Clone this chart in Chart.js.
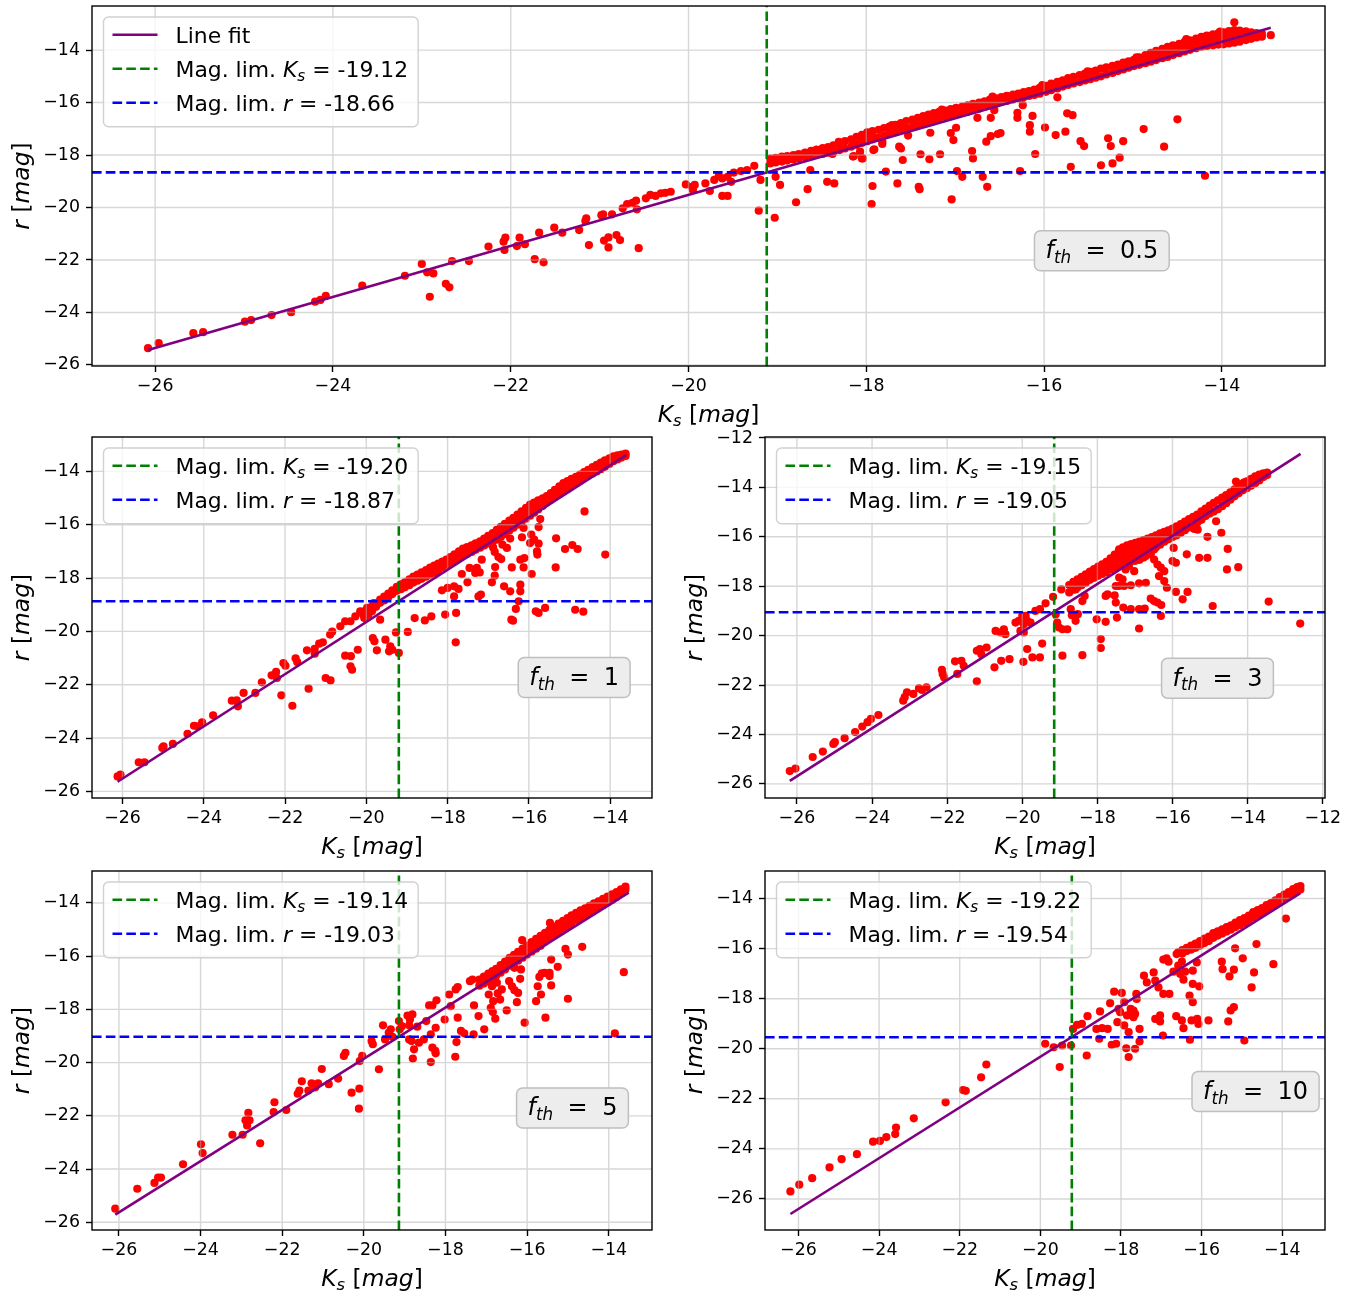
<!DOCTYPE html>
<html>
<head>
<meta charset="utf-8">
<title>r vs Ks magnitude limits</title>
<script src="https://cdn.jsdelivr.net/npm/chart.js@4.4.1/dist/chart.umd.min.js"></script>
<style>
  body { margin: 0; background: #fff; }
  #fig { position: relative; width: 1360px; height: 1296px; overflow: hidden; }
  #fig canvas { position: absolute; }
</style>
</head>
<body>
<div id="fig"></div>
<script>
// =====================================================================
// DATA
// =====================================================================

const fth = ['0.5', '1', '3', '5', '10'];
const ksLim = [-19.12, -19.20, -19.15, -19.14, -19.22];
const rLim = [-18.66, -18.87, -19.05, -19.03, -19.54];

// line fit end points
const fitKs = [[-26.08, -13.45], [-26.12, -13.60], [-26.19, -12.59], [-26.09, -13.51], [-26.20, -13.56]];
const fitR = [[-25.43, -13.15], [-25.64, -13.38], [-25.88, -12.64], [-25.71, -13.61], [-26.60, -13.79]];

// axis limits
const ksRange = [[-26.71, -12.84], [-26.75, -12.97], [-26.85, -11.94], [-26.66, -12.94], [-26.83, -12.94]];
const rRange = [[-26.04, -12.32], [-26.25, -12.71], [-26.57, -11.96], [-26.29, -12.80], [-27.24, -12.90]];

// tick labels
const ksTicks = [
  [-26, -24, -22, -20, -18, -16, -14],
  [-26, -24, -22, -20, -18, -16, -14],
  [-26, -24, -22, -20, -18, -16, -14, -12],
  [-26, -24, -22, -20, -18, -16, -14],
  [-26, -24, -22, -20, -18, -16, -14]
];
const rTicks = [
  [-26, -24, -22, -20, -18, -16, -14],
  [-26, -24, -22, -20, -18, -16, -14],
  [-26, -24, -22, -20, -18, -16, -14, -12],
  [-26, -24, -22, -20, -18, -16, -14],
  [-26, -24, -22, -20, -18, -16, -14]
];

// galaxies: each row is [Ks, r, r, ...] (all points sharing one Ks value)
const rows05 = [
  [-26.08,-25.36],[-25.96,-25.17],[-25.57,-24.79],[-25.46,-24.75],[-24.99,-24.35],[-24.92,-24.29],[-24.69,-24.10],[-24.47,-23.99],
  [-24.20,-23.59],[-24.14,-23.52],[-24.08,-23.37],[-23.67,-22.98],[-23.19,-22.60],[-23.00,-22.15],[-22.94,-22.47],[-22.87,-22.51],
  [-22.91,-23.40],[-22.73,-22.91],[-22.69,-23.04],[-22.66,-22.04],[-22.47,-22.04],[-22.25,-21.49],[-22.08,-21.30],[-22.06,-21.15],
  [-22.07,-21.62],[-21.93,-21.47],[-21.90,-21.15],[-21.84,-21.40],[-21.73,-21.97],[-21.63,-22.09],[-21.68,-20.96],[-21.51,-20.77],
  [-21.42,-20.96],[-21.23,-20.86],[-21.16,-20.51],[-21.15,-20.41],[-21.12,-21.43],[-20.98,-20.29],[-20.96,-20.26],[-20.95,-21.26],
  [-20.90,-21.14,-21.52],[-20.86,-20.26],[-20.81,-21.05],[-20.77,-21.24],[-20.74,-20.03],[-20.69,-19.87],[-20.63,-19.82],[-20.58,-20.07],
  [-20.59,-19.74],[-20.56,-21.55],[-20.48,-19.65],[-20.43,-19.52],[-20.37,-19.56],[-20.31,-19.46],[-20.26,-19.44],[-20.20,-19.40],
  [-20.03,-19.12],[-19.96,-19.21],[-19.93,-19.14],[-19.95,-19.33],[-19.81,-19.08],[-19.76,-19.37],[-19.71,-18.95],[-19.66,-18.80],
  [-19.62,-18.89,-19.56],[-19.56,-18.83,-19.56],[-19.52,-19.02],[-19.49,-18.67],[-19.41,-18.61],[-19.34,-18.57],[-19.26,-18.41],
  [-19.19,-18.95],[-19.21,-20.12],
  [-19.03,-20.39],[-18.97,-19.14],[-19.02,-18.83],[-18.79,-19.80],[-18.66,-19.30],[-18.63,-18.57],[-18.44,-19.02],[-18.36,-19.08],
  [-18.14,-18.04],[-18.05,-18.13],[-18.07,-17.87],[-17.93,-19.18],[-17.94,-19.87],[-17.92,-17.81],[-17.78,-18.63],[-17.65,-19.08],
  [-17.63,-17.68],[-17.59,-18.19],[-17.61,-17.75],[-17.53,-17.26],[-17.40,-19.30],[-17.41,-19.21],[-17.39,-17.97],[-17.29,-18.16],
  [-17.28,-17.15],[-17.17,-17.97],[-17.04,-19.69],[-17.05,-17.16],[-17.02,-17.43],[-16.99,-16.96],[-16.98,-18.61],[-16.92,-18.83],
  [-16.81,-17.85],[-16.80,-18.13],[-16.75,-16.58],[-16.69,-18.83],[-16.64,-19.21],[-16.65,-17.49],[-16.60,-17.28,-16.58],
  [-16.52,-17.20],[-16.49,-17.16],[-16.56,-16.29],[-16.30,-16.58,-16.39],[-16.27,-18.61],[-16.24,-16.10],[-16.16,-16.86,-17.11],
  [-16.13,-16.51],[-16.10,-17.96],[-15.99,-16.95],[-15.87,-17.24],[-15.85,-15.80],[-15.76,-17.11],[-15.74,-16.41],[-15.68,-16.48],
  [-15.70,-18.45],[-15.59,-17.47],[-15.55,-17.66],[-15.36,-18.39],[-15.28,-17.36],[-15.25,-17.66],[-15.23,-18.32],[-15.15,-18.10],
  [-15.11,-17.47],[-14.88,-17.01],[-14.65,-17.68],[-14.50,-16.64],[-14.19,-18.79],[-13.86,-12.94],[-13.45,-13.43],
  [-18.38,-17.96],[-18.15,-18.06],[-18.04,-18.13],[-17.91,-17.78],[-17.82,-17.58,-17.49],
  [-18.31,-17.50],[-17.71,-16.86],[-17.15,-16.27],[-16.58,-15.77],[-16.02,-15.33],[-15.51,-14.81],[-14.96,-14.28],[-14.40,-13.58],[-14.02,-13.30],
  // dense sequence
  [-19.08,-18.14,-18.32],[-19.02,-18.11,-18.28],[-18.95,-18.06,-18.25],[-18.89,-18.04,-18.21],[-18.82,-18.00,-18.17],[-18.76,-17.96,-18.12],
  [-18.69,-17.91,-18.08],[-18.62,-17.84,-18.02],[-18.56,-17.79,-17.99],[-18.49,-17.74,-17.96],[-18.43,-17.70,-17.91],[-18.37,-17.63,-17.88],
  [-18.30,-17.56,-17.81],[-18.24,-17.47,-17.75],[-18.17,-17.40,-17.68],[-18.11,-17.31,-17.61,-17.45],[-18.05,-17.23,-17.54,-17.37],
  [-17.99,-17.14,-17.47,-17.30],[-17.93,-17.09,-17.40,-17.26],[-17.86,-17.04,-17.33],[-17.80,-16.97,-17.26],[-17.74,-16.92,-17.18],
  [-17.67,-16.85,-17.11],[-17.61,-16.78,-17.04],[-17.55,-16.71,-16.98],[-17.48,-16.65,-16.92],[-17.42,-16.58,-16.86],[-17.36,-16.52,-16.79],
  [-17.30,-16.46,-16.72],[-17.24,-16.40,-16.66],[-17.18,-16.35,-16.61],[-17.11,-16.31,-16.55],[-17.05,-16.25,-16.50],[-16.99,-16.20,-16.45],
  [-16.92,-16.15,-16.39],[-16.86,-16.11,-16.35],[-16.80,-16.05,-16.29],[-16.73,-16.00,-16.23],[-16.67,-15.95,-16.16],[-16.61,-15.89,-16.10],
  [-16.54,-15.84,-16.04],[-16.48,-15.79,-15.97],[-16.42,-15.74,-15.94],[-16.35,-15.70,-15.88],[-16.29,-15.66,-15.84],[-16.23,-15.60,-15.80],
  [-16.17,-15.56,-15.75],[-16.11,-15.51,-15.71],[-16.05,-15.44,-15.66],[-15.98,-15.36,-15.59],[-15.92,-15.28,-15.53],[-15.85,-15.21,-15.46],
  [-15.79,-15.15,-15.39],[-15.73,-15.07,-15.33],[-15.67,-15.02,-15.27],[-15.60,-14.95,-15.22],[-15.54,-14.90,-15.16],[-15.48,-14.83,-15.11],
  [-15.42,-14.78,-15.05],[-15.36,-14.71,-15.00],[-15.30,-14.66,-14.93],[-15.23,-14.60,-14.87],[-15.17,-14.55,-14.80],[-15.11,-14.48,-14.74],
  [-15.05,-14.43,-14.67],[-14.99,-14.37,-14.61],[-14.93,-14.28,-14.56,-14.42],[-14.86,-14.19,-14.50,-14.35],[-14.80,-14.11,-14.44,-14.28],
  [-14.74,-14.03,-14.38,-14.21],[-14.67,-13.95,-14.31,-14.14],[-14.61,-13.88,-14.26,-14.07],[-14.55,-13.82,-14.19,-14.01],
  [-14.48,-13.76,-14.12,-13.94],[-14.42,-13.69,-14.05,-13.88],[-14.36,-13.63,-13.99,-13.81],[-14.29,-13.56,-13.93,-13.75],
  [-14.23,-13.50,-13.87,-13.68],[-14.17,-13.45,-13.84,-13.65],[-14.10,-13.40,-13.82,-13.61],[-14.04,-13.36,-13.79,-13.58],
  [-13.98,-13.32,-13.78,-13.55],[-13.92,-13.28,-13.75,-13.51],[-13.86,-13.24,-13.72,-13.48],[-13.80,-13.26,-13.68,-13.47],
  [-13.73,-13.29,-13.62,-13.46],[-13.67,-13.32,-13.57],[-13.61,-13.35,-13.52],[-13.55,-13.37,-13.49]
];

const rows1 = [
  [-26.12,-25.44],[-26.05,-25.37],[-25.60,-24.91],[-25.46,-24.91],[-25.02,-24.37],[-24.99,-24.31],[-24.76,-24.22],[-24.40,-23.84],
  [-24.24,-23.54],[-24.16,-23.56],[-24.04,-23.41],[-23.77,-23.15],[-23.31,-22.60],[-23.19,-22.59],[-23.16,-22.81],[-23.02,-22.31],
  [-22.73,-22.31],[-22.57,-21.91],[-22.33,-21.65],[-22.22,-21.52],[-22.20,-21.75],[-22.09,-22.40],[-22.04,-21.19],[-21.99,-21.29],
  [-21.82,-22.79],[-21.74,-21.01],[-21.70,-21.15],[-21.42,-22.15],[-21.46,-20.71],[-21.27,-20.66,-20.84],[-21.16,-20.46],[-21.07,-20.41],
  [-21.00,-21.75],[-20.88,-21.84],[-20.89,-20.12],[-20.84,-20.01],
  [-20.64,-19.81],[-20.52,-19.62],[-20.39,-19.62],[-20.27,-19.44],[-20.15,-19.25],[-20.08,-19.37],[-19.98,-19.12],[-19.90,-19.12],[-19.82,-18.94],
  [-14.63,-15.50],[-14.12,-17.12],[-15.11,-16.91],[-14.93,-16.76],[-14.80,-16.91],[-15.34,-17.60],[-15.33,-16.51],[-14.86,-19.19],
  [-14.66,-19.26],[-15.72,-15.79],[-15.76,-16.09,-16.71,-19.31],[-15.87,-16.56],[-15.93,-17.85],[-15.80,-17.00],[-15.79,-17.12],
  [-15.83,-19.25],[-15.60,-19.12],[-16.21,-18.25,-18.50,-17.31],[-16.43,-19.56],[-16.39,-19.60],[-16.32,-19.16],[-16.25,-18.87],
  [-16.13,-16.12,-17.60],[-16.17,-16.47],[-15.97,-16.69],[-15.94,-16.37],[-16.11,-17.25],[-16.42,-17.60],[-16.54,-16.87],
  [-16.46,-16.52,-18.50],[-16.65,-16.75],[-16.84,-17.02,-17.91],[-16.75,-17.21],[-16.68,-17.29],[-16.88,-16.85],[-16.83,-17.59],
  [-16.91,-18.16],[-16.61,-18.31],[-17.16,-17.31],[-17.21,-17.79],[-17.18,-18.62],[-17.24,-18.69],[-17.46,-17.62],[-17.32,-17.81],
  [-17.28,-17.62],[-17.51,-18.16],[-17.65,-17.85],[-17.73,-18.41],[-17.84,-18.31,-18.69],[-17.79,-19.31],[-17.80,-20.41],[-18.06,-19.37],
  [-18.14,-18.46],[-18.00,-18.37],[-18.40,-19.44],[-18.56,-19.59],[-18.81,-19.50],[-18.98,-20.02],[-19.27,-20.04],[-19.20,-20.81],
  [-19.41,-20.56],[-19.36,-20.69],[-19.44,-20.75],[-19.53,-20.31],[-19.84,-20.25],[-19.80,-20.37],[-19.74,-20.71],[-19.66,-19.56],
  [-20.21,-20.69],[-20.52,-20.91],[-20.38,-20.93],[-20.39,-21.31],[-20.35,-21.44],
  // dense sequence
  [-20.05,-19.25,-19.50],[-19.95,-19.15,-19.38],[-19.86,-19.06,-19.25],[-19.76,-18.95,-19.08],[-19.66,-18.81,-18.93],[-19.56,-18.70,-18.84],
  [-19.46,-18.58,-18.72],[-19.36,-18.46,-18.60],[-19.25,-18.33,-18.48],[-19.15,-18.24,-18.42],[-19.05,-18.16,-18.35],[-18.94,-18.05,-18.27],
  [-18.84,-17.95,-18.17],[-18.74,-17.87,-18.10],[-18.64,-17.79,-18.03],[-18.53,-17.70,-17.95],[-18.43,-17.61,-17.87],[-18.33,-17.53,-17.80],
  [-18.23,-17.46,-17.72],[-18.13,-17.38,-17.59],[-18.03,-17.31,-17.50],[-17.93,-17.21,-17.42],[-17.83,-17.11,-17.34],[-17.72,-17.00,-17.25],
  [-17.62,-16.90,-17.16],[-17.52,-16.84,-17.10],[-17.41,-16.77,-17.02],[-17.31,-16.70,-16.94],[-17.20,-16.62,-16.86],[-17.10,-16.52,-16.78],
  [-17.00,-16.42,-16.70],[-16.89,-16.31,-16.62,-16.47],[-16.79,-16.19,-16.56,-16.38],[-16.69,-16.08,-16.46,-16.27],[-16.59,-15.97,-16.35,-16.16],
  [-16.48,-15.85,-16.22,-16.03],[-16.38,-15.74,-16.11,-15.92],[-16.28,-15.62,-16.00,-15.80],[-16.18,-15.50,-15.89,-15.70],
  [-16.07,-15.37,-15.77,-15.57],[-15.97,-15.25,-15.66,-15.45],[-15.87,-15.17,-15.55,-15.35],[-15.77,-15.09,-15.43,-15.25],
  [-15.66,-15.01,-15.30],[-15.56,-14.93,-15.17],[-15.46,-14.81,-15.06],[-15.36,-14.69,-14.96],[-15.25,-14.56,-14.86,-14.70],
  [-15.15,-14.44,-14.75,-14.60],[-15.05,-14.36,-14.66],[-14.95,-14.28,-14.55],[-14.84,-14.20,-14.43],[-14.74,-14.12,-14.31],
  [-14.64,-14.03,-14.24],[-14.54,-13.94,-14.16],[-14.43,-13.84,-14.08],[-14.33,-13.75,-14.00],[-14.23,-13.67,-13.92],[-14.13,-13.59,-13.83],
  [-14.02,-13.51,-13.72],[-13.92,-13.44,-13.62],[-13.82,-13.40,-13.55],[-13.72,-13.37,-13.48],[-13.62,-13.33,-13.42]
];

const rows3 = [
  [-26.19,-25.48],[-26.04,-25.38],[-25.58,-24.91],[-25.31,-24.69],[-25.03,-24.38],[-24.99,-24.31],[-24.73,-24.15],[-24.45,-23.90],
  [-24.26,-23.68],[-24.12,-23.50],[-24.03,-23.37],[-23.83,-23.21],[-23.17,-22.63],[-23.13,-22.49],[-23.07,-22.29],[-22.90,-22.36],
  [-22.75,-22.13],[-22.67,-22.20],[-22.55,-22.09],[-22.14,-21.38],[-22.12,-21.55],[-22.08,-21.69],[-21.79,-21.04],[-21.62,-21.02],
  [-21.56,-21.22],[-21.73,-21.55],[-21.21,-21.85,-20.61],[-21.13,-20.54],[-20.95,-20.48],[-21.09,-20.75],
  [-20.71,-19.81],[-20.58,-19.87],[-20.49,-19.74],[-20.45,-19.94],[-20.74,-21.28],[-20.56,-21.02],[-20.34,-20.95],[-20.18,-19.47],
  [-20.09,-19.40],[-20.05,-19.81],[-19.96,-19.54,-19.87],[-19.87,-19.40,-20.54],[-19.78,-19.47],[-19.91,-19.20],[-20.00,-19.20],
  [-19.97,-21.06],[-19.73,-20.88],[-19.53,-20.88,-18.93],[-19.47,-20.32],[-19.65,-19.00],[-19.38,-18.69],[-19.18,-18.43],[-19.11,-19.13],
  [-19.07,-19.47],[-19.02,-19.67],[-18.93,-19.74,-20.81],[-18.80,-19.74],[-18.96,-18.13],[-18.71,-18.93],[-18.68,-19.17],
  [-18.58,-19.40,-18.13],[-18.52,-19.13],[-18.40,-18.60,-20.79],[-18.34,-18.39],[-18.49,-17.92],[-18.27,-17.72],[-18.18,-17.59],
  [-18.02,-19.34],[-17.91,-20.14,-20.50],[-17.78,-19.44,-18.39],[-17.73,-18.33],[-17.54,-18.37],[-17.51,-18.66,-17.99],[-17.48,-19.27],
  [-17.42,-17.99,-17.65,-16.51],[-17.29,-17.99,-16.78],[-17.11,-17.96,-18.93],[-16.89,-17.88,-18.93,-19.71],[-16.71,-17.86,-16.78],
  [-17.33,-17.72],[-17.31,-18.86],[-16.74,-18.90],[-16.58,-18.50,-16.71],[-16.49,-18.60,-16.92,-16.51],[-16.40,-18.66,-17.12],
  [-16.30,-18.76],[-16.31,-19.20,-17.25],[-15.91,-18.23,-17.05],[-15.73,-18.53],[-15.60,-18.23],[-15.97,-16.45],[-15.62,-16.71],
  [-15.29,-16.85],[-15.07,-16.85,-16.00],[-14.93,-18.80],[-14.84,-15.37],[-15.42,-15.68],[-15.33,-15.71],[-14.70,-15.84],[-14.53,-16.49],
  [-14.55,-17.32],[-14.25,-17.23],[-13.44,-18.62],[-12.60,-19.51],[-17.25,-17.32],[-17.16,-17.18],[-17.02,-17.39],[-16.22,-17.39,-17.79],
  [-16.36,-17.59],[-16.00,-16.98],[-16.15,-18.06],[-17.56,-16.92],[-17.69,-17.05],[-16.80,-16.58],[-16.67,-16.38],[-14.31,-13.76],[-14.09,-13.80],
  // dense sequence
  [-18.75,-17.95,-18.25],[-18.64,-17.82,-18.14],[-18.53,-17.72,-18.05],[-18.42,-17.62,-17.96],[-18.31,-17.52,-17.86],[-18.20,-17.41,-17.74],
  [-18.09,-17.31,-17.50,-17.66],[-17.98,-17.21,-17.34,-17.46,-17.58],[-17.87,-17.11,-17.24,-17.37,-17.50],[-17.76,-17.01,-17.15,-17.29,-17.43],
  [-17.65,-16.87,-17.02,-17.17,-17.32],[-17.54,-16.72,-16.90,-17.07,-17.25],[-17.43,-16.58,-16.78,-16.98,-17.18],
  [-17.32,-16.43,-16.66,-16.89,-17.12],[-17.21,-16.35,-16.58,-16.82,-17.05],[-17.10,-16.29,-16.53,-16.76,-17.00],
  [-16.99,-16.24,-16.48,-16.72,-16.97],[-16.88,-16.19,-16.44,-16.68,-16.93],[-16.77,-16.13,-16.37,-16.61,-16.84],
  [-16.66,-16.07,-16.27,-16.48,-16.68],[-16.55,-16.01,-16.19,-16.37,-16.55],[-16.44,-15.94,-16.10,-16.26,-16.42],
  [-16.33,-15.86,-16.01,-16.17,-16.32],[-16.22,-15.80,-15.94,-16.07,-16.20],[-16.11,-15.74,-15.92,-16.10],[-16.00,-15.67,-15.83,-16.01],
  [-15.89,-15.58,-15.76,-15.94],[-15.78,-15.48,-15.66,-15.84],[-15.67,-15.38,-15.56,-15.73],[-15.56,-15.28,-15.45,-15.62],
  [-15.45,-15.19,-15.52],[-15.34,-15.10,-15.42],[-15.23,-14.97,-15.31],[-15.12,-14.86,-15.16],[-15.01,-14.74,-15.06],[-14.90,-14.63,-14.98],
  [-14.79,-14.52,-14.88],[-14.68,-14.41,-14.76],[-14.57,-14.31,-14.64],[-14.46,-14.20,-14.50],[-14.35,-14.08,-14.36],[-14.24,-13.96,-14.24],
  [-14.13,-13.85,-14.12],[-14.02,-13.75,-14.03],[-13.91,-13.65,-13.93],[-13.80,-13.55,-13.83],[-13.69,-13.48,-13.72],[-13.58,-13.43,-13.58],
  [-13.48,-13.40,-13.50]
];

const rows5 = [
  [-26.09,-25.49],[-25.55,-24.74],[-25.13,-24.52],[-25.04,-24.32],[-24.97,-24.32],[-24.43,-23.82],[-23.99,-23.07],[-23.95,-23.40],
  [-23.22,-22.71],[-22.97,-22.71],[-22.90,-22.17],[-22.86,-22.36],[-22.83,-21.89],[-22.80,-22.17],[-22.54,-23.03],[-22.19,-21.49],
  [-22.21,-21.86],[-21.90,-21.78],[-21.62,-21.17],[-21.52,-20.70],[-21.58,-21.05],[-21.36,-21.05],[-21.28,-20.78],[-21.12,-20.78],
  [-21.19,-20.93],[-21.03,-20.24],
  [-20.86,-20.81],[-20.63,-20.60],[-20.49,-19.75],[-20.45,-19.63],[-20.30,-21.13],[-20.11,-20.98],[-20.12,-21.73],[-20.04,-19.75],
  [-20.10,-19.94],[-19.81,-19.19],[-19.78,-19.31],[-19.63,-20.25],[-19.53,-18.60],[-19.48,-19.13],[-19.39,-18.88],[-19.34,-18.75],
  [-19.30,-19.03],[-19.14,-18.44],[-19.07,-18.63],[-19.12,-18.75],[-18.93,-18.23],[-18.87,-18.38],[-18.81,-18.19],[-18.89,-18.60,-19.13],
  [-18.83,-19.19],[-18.77,-19.50],[-18.80,-19.85],[-18.69,-18.65],[-18.65,-19.25],[-18.53,-19.13],[-18.47,-18.44],[-18.36,-18.94,-19.98],
  [-18.40,-17.85],[-18.32,-17.85,-19.44],[-18.25,-19.56],[-18.24,-19.65,-18.69],[-18.22,-17.66],[-18.02,-18.38],[-17.91,-17.44],
  [-17.75,-17.25],[-17.70,-17.16,-18.31],[-17.87,-17.88],[-17.76,-19.78],[-17.73,-19.23],[-17.62,-18.81],[-17.54,-18.90],[-17.40,-16.94],
  [-17.34,-16.88],[-17.30,-17.85],[-17.19,-18.25],[-17.31,-18.94],[-17.05,-18.75],[-16.94,-17.44],[-16.86,-17.13],[-16.83,-17.69],
  [-16.89,-17.94],[-16.84,-18.10],[-16.78,-18.35],[-16.72,-17.40],[-16.66,-17.63],[-16.74,-17.00],[-16.62,-17.25],[-16.50,-18.04],
  [-16.44,-16.94],[-16.37,-17.13],[-16.31,-17.28,-16.44],[-16.25,-17.73],[-16.22,-17.38],[-16.17,-16.85],[-16.06,-18.50],[-16.15,-16.50],
  [-15.78,-17.69],[-15.74,-17.13],[-15.70,-16.78],[-15.64,-16.65],[-15.57,-16.63],[-15.45,-16.63,-16.75],[-15.66,-17.44],[-15.55,-18.31],
  [-15.41,-17.10,-16.13],[-15.25,-16.40],[-15.06,-15.73],[-15.00,-15.94,-17.60],[-14.65,-15.65],[-13.85,-18.90],[-13.63,-16.60],
  [-15.44,-14.75],[-16.12,-15.40],
  // dense sequence
  [-17.17,-16.88,-17.11],[-17.06,-16.77,-17.03],[-16.95,-16.66,-16.95],[-16.85,-16.56,-16.85],[-16.76,-16.48,-16.74],[-16.65,-16.34,-16.62],
  [-16.54,-16.20,-16.50],[-16.43,-16.06,-16.36,-16.21],[-16.32,-15.95,-16.25,-16.10],[-16.22,-15.84,-16.17,-16.00],[-16.11,-15.72,-16.06,-15.89],
  [-16.00,-15.60,-15.94,-15.77],[-15.89,-15.47,-15.83,-15.65],[-15.78,-15.35,-15.72,-15.53],[-15.67,-15.24,-15.61,-15.42],
  [-15.56,-15.12,-15.46,-15.29],[-15.45,-15.01,-15.31,-15.16],[-15.34,-14.90,-15.21,-15.05],[-15.23,-14.78,-15.09,-14.93],
  [-15.12,-14.67,-14.97,-14.82],[-15.01,-14.57,-14.88,-14.72],[-14.91,-14.47,-14.77,-14.62],[-14.80,-14.37,-14.64,-14.50],
  [-14.69,-14.28,-14.57],[-14.58,-14.20,-14.45],[-14.47,-14.11,-14.34],[-14.36,-14.02,-14.26],[-14.25,-13.94,-14.17],[-14.14,-13.85,-14.08],
  [-14.03,-13.76,-13.98],[-13.92,-13.68,-13.89],[-13.81,-13.59,-13.78],[-13.70,-13.49,-13.64],[-13.59,-13.39,-13.50]
];

const rows10 = [
  [-26.20,-25.70],[-25.98,-25.43],[-25.66,-25.17],[-25.23,-24.74],[-24.93,-24.41],[-24.55,-24.21],[-24.15,-23.71],[-23.98,-23.68],
  [-23.82,-23.53],[-23.60,-23.41],[-23.58,-23.15],[-23.14,-22.78],[-22.35,-22.14],[-21.92,-21.65],[-21.85,-21.68],[-21.47,-21.14],
  [-21.34,-20.63],
  [-19.88,-19.80],[-19.67,-19.94],[-19.46,-19.87],[-19.24,-19.87],[-19.52,-20.73],[-19.19,-19.21],[-19.09,-19.05],[-18.97,-19.01],
  [-18.83,-18.70],[-18.85,-20.27],[-18.61,-19.21],[-18.52,-18.51],[-18.47,-19.18],[-18.33,-19.21],[-18.27,-18.18],[-18.54,-19.60],
  [-18.23,-19.84],[-18.12,-19.80],[-18.17,-17.72],[-18.09,-18.94],[-18.06,-18.41],[-18.02,-18.54],[-17.98,-17.77],[-17.92,-18.14,-19.07],
  [-17.87,-19.98],[-17.81,-20.33,-19.34],[-17.65,-20.00,-18.61],[-17.85,-18.67],[-17.76,-18.61,-18.41],[-17.69,-18.48,-18.74],
  [-17.61,-18.01],[-17.54,-19.21,-19.71],[-17.62,-17.81],[-17.43,-17.08],[-17.36,-17.35],[-17.19,-16.95],[-17.15,-17.28,-18.81],
  [-17.07,-17.55],[-16.95,-17.81],[-16.80,-17.81],[-17.03,-18.67,-18.91],[-16.96,-19.47],[-16.63,-18.70],[-16.49,-18.87],
  [-16.45,-19.18,-17.24],[-16.22,-17.41,-18.14,-16.88],[-16.30,-17.88],[-16.06,-17.51],[-16.25,-18.87],[-16.11,-18.81],[-16.08,-19.01],
  [-15.83,-18.87],[-16.29,-19.64],[-16.12,-16.55],[-16.41,-16.92],[-16.53,-17.01],[-16.58,-16.68],[-16.49,-16.52],[-16.70,-16.92],
  [-15.50,-16.52],[-15.48,-16.82],[-15.31,-17.11],[-15.17,-15.99],[-15.20,-16.84,-18.34],[-14.98,-16.39],[-15.34,-18.91],[-15.28,-18.47],
  [-14.94,-19.67],[-14.76,-17.55],[-14.70,-16.95],[-14.64,-15.82],[-14.22,-16.62],[-13.91,-14.80],
  [-16.95,-16.44],[-16.87,-16.39],[-16.82,-16.52],[-16.62,-16.22],[-16.58,-16.15],
  // dense sequence
  [-16.48,-16.06,-16.20],[-16.37,-15.97,-16.10],[-16.26,-15.88,-16.04],[-16.15,-15.80,-15.97],[-16.04,-15.70,-15.88],[-15.93,-15.60,-15.78],
  [-15.82,-15.52,-15.70],[-15.71,-15.38,-15.57],[-15.60,-15.31,-15.48],[-15.49,-15.23,-15.40],[-15.38,-15.14,-15.32],[-15.27,-15.07,-15.24],
  [-15.16,-14.96,-15.14],[-15.05,-14.86,-15.06],[-14.94,-14.78,-14.97],[-14.83,-14.68,-14.88],[-14.72,-14.54,-14.74],[-14.61,-14.46,-14.64],
  [-14.50,-14.38,-14.56],[-14.39,-14.26,-14.46],[-14.28,-14.18,-14.36],[-14.17,-14.07,-14.26],[-14.06,-13.94,-14.14],[-13.95,-13.84,-14.04],
  [-13.84,-13.74,-13.92],[-13.73,-13.62,-13.82],[-13.63,-13.54,-13.72],[-13.55,-13.50,-13.64]
];

const galaxyRows = [rows05, rows1, rows3, rows5, rows10];

// =====================================================================
// LAYOUT AND STYLE
// =====================================================================

// plot area of each panel on the page [left, top, right, bottom] and the f_th box centre (fraction of area)
const panels = [
  { area: [92, 6, 1325, 366], note: [0.819, 0.68] },
  { area: [92, 437, 652, 798], note: [0.861, 0.666] },
  { area: [765, 437, 1325, 798], note: [0.808, 0.668] },
  { area: [92, 871, 652, 1230], note: [0.858, 0.66] },
  { area: [765, 871, 1325, 1230], note: [0.876, 0.614] }
];

const FONT = '"DejaVu Sans"';
const GRID = 'rgba(176,176,176,0.5)';
const DASH = [9.6, 4.2];
const RED = '#ff0000', PURPLE = '#800080', GREEN = '#008000', BLUE = '#0000ff';
const PAD_LEFT = 92, PAD_TOP = 22, PAD_RIGHT = 25, X_AXIS_H = 64;

Chart.defaults.font.family = FONT;
Chart.defaults.color = '#000';

const fmtTick = v => (v < 0 ? '\u2212' : '') + Math.abs(v);

// ---- small rich-text helpers (italic / subscript runs, like mathtext) ----
function runFont(r, size) {
  const s = r.sub ? size * 0.7 : size;
  return (r.it ? 'italic ' : '') + s.toFixed(2) + 'px ' + FONT;
}
function runsWidth(ctx, runs, size) {
  let w = 0;
  runs.forEach(r => {
    if (r.gap) { w += r.gap * size; return; }
    ctx.font = runFont(r, size);
    w += ctx.measureText(r.t).width;
  });
  return w;
}
function drawRuns(ctx, runs, x, y, size) {
  ctx.textAlign = 'left';
  ctx.textBaseline = 'alphabetic';
  runs.forEach(r => {
    if (r.gap) { x += r.gap * size; return; }
    ctx.font = runFont(r, size);
    ctx.fillText(r.t, x, r.sub ? y + size * 0.2 : y);
    x += ctx.measureText(r.t).width;
  });
}
function rrect(ctx, x, y, w, h, r) {
  ctx.beginPath();
  ctx.moveTo(x + r, y);
  ctx.arcTo(x + w, y, x + w, y + h, r);
  ctx.arcTo(x + w, y + h, x, y + h, r);
  ctx.arcTo(x, y + h, x, y, r);
  ctx.arcTo(x, y, x + w, y, r);
  ctx.closePath();
}

function legendItems(i) {
  const items = [];
  if (i === 0) items.push({ color: PURPLE, dash: [], runs: [{ t: 'Line fit' }] });
  items.push({ color: GREEN, dash: DASH, runs: [{ t: 'Mag. lim. ' }, { t: 'K', it: 1 }, { t: 's', it: 1, sub: 1 }, { t: ' = ' + ksLim[i].toFixed(2) }] });
  items.push({ color: BLUE, dash: DASH, runs: [{ t: 'Mag. lim. ' }, { t: 'r', it: 1 }, { t: ' = ' + rLim[i].toFixed(2) }] });
  return items;
}

function drawLegend(ctx, a, i) {
  const items = legendItems(i);
  const size = 21.9;
  let tw = 0;
  items.forEach(it => { tw = Math.max(tw, runsWidth(ctx, it.runs, size)); });
  const x0 = a.left + 11.5, y0 = a.top + 11;
  const w = 72 + tw + 10, h = 18.3 + (items.length - 1) * 34 + 23.5;
  ctx.save();
  rrect(ctx, x0, y0, w, h, 5);
  ctx.fillStyle = 'rgba(255,255,255,0.8)';
  ctx.fill();
  ctx.strokeStyle = 'rgba(204,204,204,0.9)';
  ctx.lineWidth = 1.4;
  ctx.stroke();
  items.forEach((it, k) => {
    const cy = y0 + 17.8 + k * 34;
    ctx.beginPath();
    ctx.setLineDash(it.dash);
    ctx.strokeStyle = it.color;
    ctx.lineWidth = 2.6;
    ctx.moveTo(x0 + 9, cy);
    ctx.lineTo(x0 + 54, cy);
    ctx.stroke();
    ctx.setLineDash([]);
    ctx.fillStyle = '#000';
    drawRuns(ctx, it.runs, x0 + 72, cy + 7.9, size);
  });
  ctx.restore();
}

function drawNote(ctx, a, i, frac) {
  const size = 24;
  const runs = [{ t: 'f', it: 1 }, { t: 'th', it: 1, sub: 1 }, { gap: 0.6 }, { t: '=' }, { gap: 0.6 }, { t: fth[i] }];
  const tw = runsWidth(ctx, runs, size);
  const cx = a.left + frac[0] * a.width, cy = a.top + frac[1] * a.height;
  const w = tw + 22, h = 40;
  ctx.save();
  rrect(ctx, cx - w / 2, cy - h / 2, w, h, 6);
  ctx.fillStyle = '#ededed';
  ctx.fill();
  ctx.strokeStyle = '#bfbfbf';
  ctx.lineWidth = 1.5;
  ctx.stroke();
  ctx.fillStyle = '#000';
  drawRuns(ctx, runs, cx - tw / 2, cy + 7.5, size);
  ctx.restore();
}

function drawAxisTitles(ctx, a) {
  const size = 23.4;
  const xRuns = [{ t: 'K', it: 1 }, { t: 's', it: 1, sub: 1 }, { t: ' ' }, { t: '[' }, { t: 'mag', it: 1 }, { t: ']' }];
  const yRuns = [{ t: 'r', it: 1 }, { t: ' ' }, { t: '[' }, { t: 'mag', it: 1 }, { t: ']' }];
  ctx.save();
  ctx.fillStyle = '#000';
  const xw = runsWidth(ctx, xRuns, size);
  drawRuns(ctx, xRuns, (a.left + a.right) / 2 - xw / 2, a.bottom + 55.5, size);
  const yw = runsWidth(ctx, yRuns, size);
  ctx.translate(a.left - 63.3, (a.top + a.bottom) / 2);
  ctx.rotate(-Math.PI / 2);
  drawRuns(ctx, yRuns, -yw / 2, 0, size);
  ctx.restore();
}

// gridlines go over the scatter (as in matplotlib), then frame, legend and notes on top
const decor = {
  id: 'decor',
  afterDatasetDraw(chart, args) {
    if (args.index !== 3) return;
    const { ctx, chartArea: a, scales } = chart;
    ctx.save();
    ctx.beginPath();
    ctx.rect(a.left, a.top, a.width, a.height);
    ctx.clip();
    ctx.strokeStyle = GRID;
    ctx.lineWidth = 1.4;
    ctx.beginPath();
    scales.x.ticks.forEach(t => {
      const p = scales.x.getPixelForValue(t.value);
      ctx.moveTo(p, a.top); ctx.lineTo(p, a.bottom);
    });
    scales.y.ticks.forEach(t => {
      const p = scales.y.getPixelForValue(t.value);
      ctx.moveTo(a.left, p); ctx.lineTo(a.right, p);
    });
    ctx.stroke();
    ctx.restore();
  },
  afterDraw(chart, args, opts) {
    const { ctx, chartArea: a } = chart;
    const i = opts.panel;
    ctx.save();
    ctx.strokeStyle = '#000';
    ctx.lineWidth = 1.4;
    ctx.strokeRect(a.left, a.top, a.width, a.height);
    ctx.restore();
    drawLegend(ctx, a, i);
    drawNote(ctx, a, i, panels[i].note);
    drawAxisTitles(ctx, a);
  }
};

// =====================================================================
// CHARTS
// =====================================================================

const fig = document.getElementById('fig');

panels.forEach((p, i) => {
  const [l, t, r, b] = p.area;
  const cv = document.createElement('canvas');
  cv.width = r - l + PAD_LEFT + PAD_RIGHT;
  cv.height = b - t + PAD_TOP + X_AXIS_H;
  cv.style.left = (l - PAD_LEFT) + 'px';
  cv.style.top = (t - PAD_TOP) + 'px';
  fig.appendChild(cv);

  const pts = [];
  galaxyRows[i].forEach(row => {
    for (let k = 1; k < row.length; k++) pts.push({ x: row[0], y: row[k] });
  });

  new Chart(cv, {
    type: 'scatter',
    data: {
      datasets: [
        {
          label: 'Mag. lim. Ks',
          data: [{ x: ksLim[i], y: rRange[i][0] }, { x: ksLim[i], y: rRange[i][1] }],
          showLine: true, borderColor: GREEN, borderWidth: 2.6, borderDash: DASH,
          pointRadius: 0, fill: false
        },
        {
          label: 'Mag. lim. r',
          data: [{ x: ksRange[i][0], y: rLim[i] }, { x: ksRange[i][1], y: rLim[i] }],
          showLine: true, borderColor: BLUE, borderWidth: 2.6, borderDash: DASH,
          pointRadius: 0, fill: false
        },
        {
          label: 'Line fit',
          data: [{ x: fitKs[i][0], y: fitR[i][0] }, { x: fitKs[i][1], y: fitR[i][1] }],
          showLine: true, borderColor: PURPLE, borderWidth: 2.6,
          pointRadius: 0, fill: false
        },
        {
          label: 'galaxies',
          data: pts,
          backgroundColor: RED, borderWidth: 0, pointRadius: 4.1, pointHoverRadius: 4.1
        }
      ]
    },
    options: {
      responsive: false,
      animation: false,
      devicePixelRatio: 1,
      events: [],
      layout: { padding: { left: 0, top: PAD_TOP, right: PAD_RIGHT, bottom: 0 } },
      plugins: {
        legend: { display: false },
        tooltip: { enabled: false },
        decor: { panel: i }
      },
      scales: {
        x: {
          type: 'linear',
          min: ksRange[i][0],
          max: ksRange[i][1],
          afterBuildTicks: s => { s.ticks = ksTicks[i].map(v => ({ value: v })); },
          afterFit: s => { s.height = X_AXIS_H; },
          grid: { drawOnChartArea: false, drawTicks: true, tickLength: 6, tickWidth: 1.4, tickColor: '#000' },
          border: { display: false },
          ticks: { color: '#000', font: { size: 17.4 }, padding: 4, maxRotation: 0, autoSkip: false, callback: fmtTick }
        },
        y: {
          type: 'linear',
          min: rRange[i][0],
          max: rRange[i][1],
          afterBuildTicks: s => { s.ticks = rTicks[i].map(v => ({ value: v })); },
          afterFit: s => { s.width = PAD_LEFT; },
          grid: { drawOnChartArea: false, drawTicks: true, tickLength: 6, tickWidth: 1.4, tickColor: '#000' },
          border: { display: false },
          ticks: { color: '#000', font: { size: 17.4 }, padding: 6, autoSkip: false, callback: fmtTick }
        }
      }
    },
    plugins: [decor]
  });
});
</script>
</body>
</html>
